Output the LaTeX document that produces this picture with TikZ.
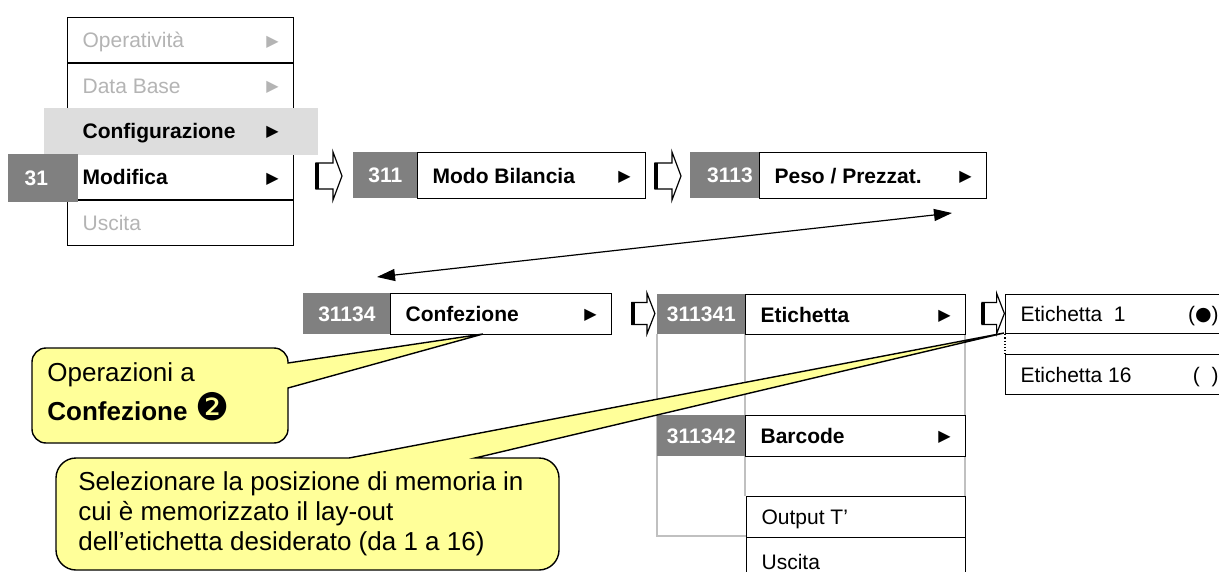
\documentclass[tikz,border=0pt]{standalone}
\usepackage{fontspec}
\setmainfont{Liberation Sans}
\newfontfamily\dejavu{DejaVu Sans}
\usetikzlibrary{arrows.meta}
\definecolor{mnugray}{HTML}{808080}
\definecolor{mnuhigh}{HTML}{DDDDDD}
\definecolor{mnufade}{HTML}{B4B4B4}
\definecolor{mnuline}{HTML}{C0C0C0}
\definecolor{notefill}{HTML}{FFFF99}
\newcommand{\tri}{\raisebox{0.9pt}{\dejavu\fontsize{8}{9}\selectfont ▶}}
\newcommand{\menuline}[3]{\hbox to #1{#2\hfill#3}}
\tikzset{
  item/.style={rectangle, draw=black, line width=0.6pt, fill=white, anchor=north west,
               inner xsep=7.5pt, inner ysep=0pt, text height=7.5pt, text depth=0pt,
               font=\fontsize{10.5}{12.6}\selectfont},
  code/.style={rectangle, fill=mnugray, text=white, anchor=north west, inner sep=0pt,
               text height=7.5pt, text depth=0pt, font=\fontsize{10.5}{12.6}\selectfont\bfseries},
  note/.style={draw=black, line width=0.7pt, fill=notefill, line join=miter},
  notetext/.style={anchor=north west, inner sep=0pt, align=left},
  link/.style={{Triangle[length=9pt,width=6pt]}-{Triangle[length=9pt,width=6pt]}, line width=0.6pt},
  hollowarr/.pic={
    \draw[fill=white, line width=0.6pt, line join=miter]
      (0,-13) -- (17,-13) -- (17,-24) -- (26,0) -- (17,24) -- (17,13) -- (0,13) -- cycle;
    \draw[line width=2pt] (1,-13) -- (1,13);
  },
}
\begin{document}
\begin{tikzpicture}[x=0.5pt, y=-0.5pt]
\useasboundingbox (0,0) rectangle (1219,572);
\clip (0,0) rectangle (1219,572);

\draw[mnuline, line width=0.6pt] (657,334) -- (657,536) -- (746,536);
\draw[mnuline, line width=0.6pt] (745,334) -- (745,496);
\draw[mnuline, line width=0.6pt] (965,334) -- (965,496);

\node[item, minimum width=113pt, minimum height=22.75pt, text=mnufade] (m1ope) at (67,17) {\menuline{98pt}{Operatività}{\tri}};
\node[item, minimum width=113pt, minimum height=22.75pt, text=mnufade] (m1db) at (67,62.5) {\menuline{98pt}{Data Base}{\tri}};
\node[item, minimum width=113pt, minimum height=22.75pt] (m1mod) at (67,154) {\menuline{98pt}{\textbf{Modifica}}{\tri}};
\node[item, minimum width=113pt, minimum height=22.75pt, text=mnufade] (m1usc) at (67,199.5) {\menuline{98pt}{Uscita}{}};
\node[item, draw=none, fill=mnuhigh, inner xsep=19.5pt, minimum height=23.5pt] (m1cfg) at (43,107) {\menuline{98pt}{\textbf{Configurazione}}{\tri}};
\node[code, minimum width=35pt, minimum height=24pt] (n31) at (8,154) {31\kern7pt};

\pic at (316,176) {hollowarr};
\pic at (655,176) {hollowarr};
\pic[xscale=0.88, yscale=0.85] at (632,313.5) {hollowarr};
\pic[xscale=0.86, yscale=0.84] at (982,313.5) {hollowarr};

\node[code, minimum width=32pt, minimum height=23pt] (n311) at (353,152) {311};
\node[item, minimum width=114pt, minimum height=23pt] (mbil) at (417,152) {\menuline{99pt}{\textbf{Modo Bilancia}}{\tri}};
\node[code, minimum width=34.5pt, minimum height=23pt] (n3113) at (690,152) {\kern5pt3113};
\node[item, minimum width=113.5pt, minimum height=23pt] (pprez) at (759,152) {\menuline{98.5pt}{\textbf{Peso / Prezzat.}}{\tri}};

\coordinate (cfa) at (377,277);
\coordinate (pza) at (952,213);
\draw[link] (cfa) -- (pza);

\node[code, minimum width=43.5pt, minimum height=20.5pt] (n31134) at (303,293) {31134};
\node[item, minimum width=110.5pt, minimum height=20.5pt] (conf) at (390,293) {\menuline{95.5pt}{\textbf{Confezione}}{\tri}};
\node[code, minimum width=44pt, minimum height=20pt] (n311341) at (657,294) {311341};
\node[item, minimum width=110pt, minimum height=20pt] (etic) at (745,294) {\menuline{95pt}{\textbf{Etichetta}}{\tri}};
\node[code, minimum width=44pt, minimum height=20.5pt] (n311342) at (657,415) {311342};
\node[item, minimum width=110pt, minimum height=20.5pt] (barc) at (745,415) {\menuline{95pt}{\textbf{Barcode}}{\tri}};
\node[item, minimum width=109.5pt, minimum height=20.5pt] (outt) at (746,496) {\menuline{94.5pt}{Output T’}{}};
\node[item, minimum width=109.5pt, minimum height=24pt] (usc2) at (746,537) {\menuline{94.5pt}{Uscita}{}};

\node[item, minimum width=114pt, minimum height=19.5pt] (et1) at (1005,294) {\menuline{99pt}{Etichetta\ \ 1}{(\raisebox{0.6pt}{\dejavu\fontsize{9.5}{10}\selectfont ●})}};
\node[item, minimum width=114pt, minimum height=20pt] (et16) at (1005,354) {\menuline{99pt}{Etichetta 16}{(\ \ )}};
\draw[densely dotted, line width=0.6pt] (et1.south west) -- (et16.north west);

\draw[note] (288,388) -- (288,429) .. controls (288,436.7) and (281.7,443) .. (274,443)
  -- (46,443) .. controls (38.3,443) and (32,436.7) .. (32,429)
  -- (32,362) .. controls (32,354.3) and (38.3,348) .. (46,348)
  -- (274,348) .. controls (281.7,348) and (288,354.3) .. (288,362)
  -- (288,363) -- (483,334) -- cycle;
\node[notetext, font=\fontsize{13}{19.5}\selectfont] (note1) at (47,362)
  {Operazioni a\\\textbf{Confezione}\hspace{4pt}{\dejavu\fontsize{19}{19.5}\selectfont ❷}};

\draw[note] (475,458) -- (539,458) .. controls (550,458) and (559,467) .. (559,478)
  -- (559,550) .. controls (559,561) and (550,570) .. (539,570)
  -- (76,570) .. controls (65,570) and (56,561) .. (56,550)
  -- (56,478) .. controls (56,467) and (65,458) .. (76,458)
  -- (349,458) -- (1004,333) -- cycle;
\node[notetext, font=\fontsize{13}{15}\selectfont] (note2) at (78,471)
  {Selezionare la posizione di memoria in\\cui è memorizzato il lay-out\\dell’etichetta desiderato (da 1 a 16)};
\end{tikzpicture}
\end{document}
